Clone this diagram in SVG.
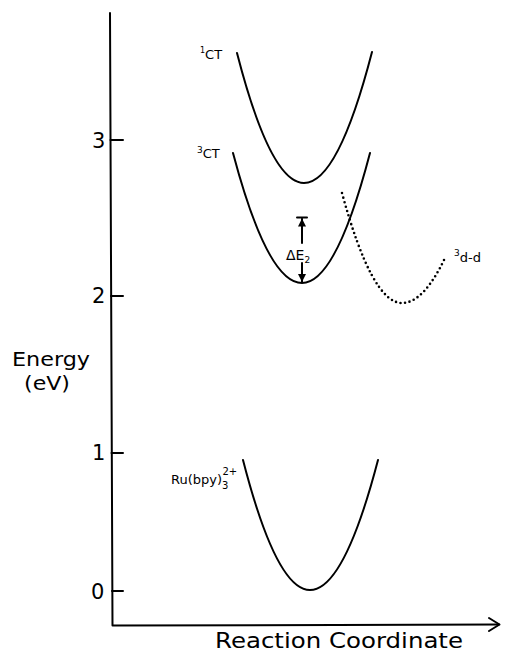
<svg xmlns="http://www.w3.org/2000/svg" width="507" height="654" viewBox="0 0 507 654">
<style>
.ln{fill:none;stroke:#000;stroke-width:2;stroke-linecap:round;stroke-linejoin:round}
.dot{fill:none;stroke:#000;stroke-width:2.6;stroke-linecap:round;stroke-dasharray:0 4.6}
.t{font-family:"DejaVu Sans","Liberation Sans",sans-serif;fill:#000}
.big{font-size:21px}
.sm{font-size:13px}
</style>
<defs>
<marker id="ah" viewBox="0 0 10 10" refX="10" refY="5" markerWidth="8" markerHeight="8" markerUnits="userSpaceOnUse" orient="auto">
<path d="M0,0 L10,5 L0,10 Z" fill="#000"/>
</marker>
</defs>
<rect width="507" height="654" fill="#fff"/>
<g id="axes">
<path class="ln" d="M110,13 L112.5,625.5 L499,624.5"/>
<path class="ln" d="M489,618 L499.5,624.5 L489,631"/>
<path class="ln" d="M110.5,140 H123 M111,296 H123 M111.5,453 H123 M112,591 H123"/>
<text class="t big" x="92" y="148">3</text>
<text class="t big" x="92" y="303">2</text>
<text class="t big" x="92" y="460">1</text>
<text class="t big" x="91" y="599">0</text>
<text class="t" x="12" y="366" font-size="20" textLength="78" lengthAdjust="spacingAndGlyphs">Energy</text>
<text class="t" x="24" y="390" font-size="20" textLength="46" lengthAdjust="spacingAndGlyphs">(eV)</text>
<text class="t" x="215" y="648" font-size="21" textLength="248" lengthAdjust="spacingAndGlyphs">Reaction Coordinate</text>
</g>
<g id="s1ct">
<path class="ln" d="M237,53 Q270.5,183 304,183 Q338,183 372,52"/>
<text class="t sm" x="200" y="59"><tspan font-size="8" dy="-6">1</tspan><tspan dy="6">CT</tspan></text>
</g>
<g id="s3ct">
<path class="ln" d="M233,153 Q267.5,283 302,283 Q336,283 370,153"/>
<text class="t sm" x="197" y="158"><tspan font-size="9" dy="-5">3</tspan><tspan dy="5">CT</tspan></text>
</g>
<g id="s3dd">
<path class="dot" d="M342,193 Q372,303 402,303 Q423.5,303 445,258"/>
<text class="t sm" x="454" y="262"><tspan font-size="9" dy="-6">3</tspan><tspan dy="6">d-d</tspan></text>
</g>
<g id="sgs">
<path class="ln" d="M243,460 Q276.5,590 310,590 Q344,590 378,460"/>
<text class="t sm" x="171" y="484">Ru(bpy)<tspan font-size="10" dy="5">3</tspan><tspan font-size="10" dx="-6" dy="-14">2+</tspan></text>
</g>
<g id="connectors">
<path class="ln" d="M302,243 V218.5" marker-end="url(#ah)"/>
<path class="ln" d="M297,217.5 H307"/>
<path class="ln" d="M302,263 V282" marker-end="url(#ah)"/>
<text class="t" x="286" y="260" font-size="14">ΔE<tspan font-size="9" dy="3">2</tspan></text>
</g>
</svg>
